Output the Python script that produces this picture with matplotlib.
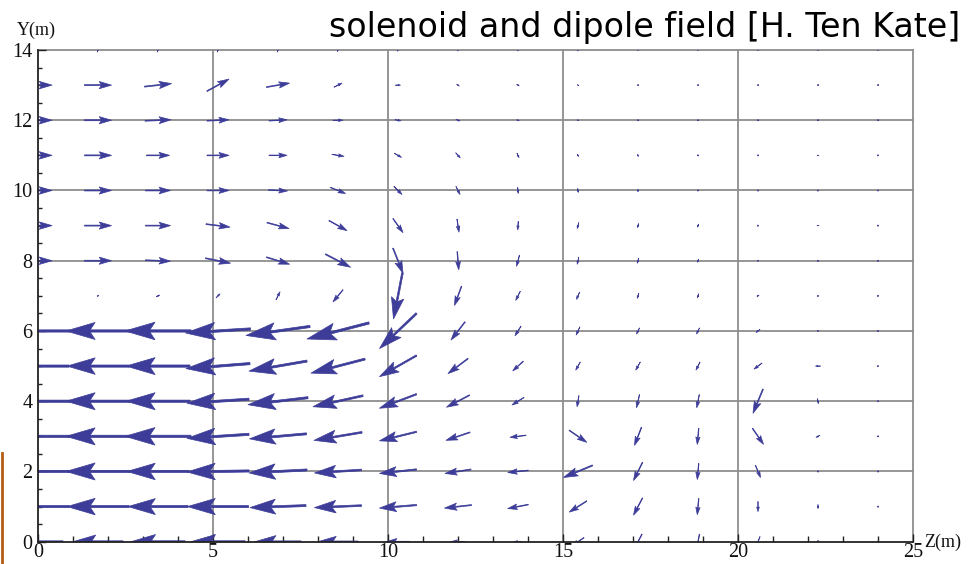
import numpy as np
import matplotlib
matplotlib.use("Agg")
import matplotlib.pyplot as plt
from matplotlib.lines import Line2D

# ---------------- data ----------------
title_text = "solenoid and dipole field [H. Ten Kate]"
x_label = "Z(m)"
y_label = "Y(m)"
x_ticks = [0, 5, 10, 15, 20, 25]
y_ticks = [0, 2, 4, 6, 8, 10, 12, 14]

# sampling grid of the vector plot
z_samples = np.linspace(0, 24, 15)
y_samples = np.arange(0, 15)

# field components (arbitrary units), rows Y = 0 .. 14, columns along Z
Bz = [
    [-50, -50, -54, -54, -46, -40, -24, -14, -8, -12, -8, -3, -4, 0, 0],
    [-62, -62, -60, -61, -56, -47, -37, -27, -20.5, -17.5, -9, -1.5, 0, 0, 0],
    [-64, -64, -62, -62, -58, -47, -37, -26, -20.5, -29, -9, -1.5, 5, 0, 0],
    [-64, -64, -66, -62, -57, -48, -37, -24, -16, 17.5, -7, -1.5, 11, -4, 0],
    [-64, -64, -64, -62, -60, -50, -37, -23, -12, -1.8, -3, -2.5, -10, 1, 0],
    [-62, -62, -64, -64, -58, -54, -37, -20, -10.5, -4.5, -4.5, -4, -8, -5, -1],
    [-64, -64, -66, -65, -64, -62, -37, -14, -6, -3.7, -3, -3, -4, -1.5, -0.5],
    [0.5, 1.5, 3.5, 4, 4, -10, -9, -7, -4.5, -3, -1.5, -1.5, -2, -1, -0.5],
    [28, 27, 25, 25, 23, 25, 10, 1.5, -3, -1.5, -1.5, -1, -1, -1, -0.8],
    [28, 27, 25, 24, 22, 18, 10, 2, -0.5, -1.5, -1, -1, -1, -2, -1],
    [28, 27, 25, 22, 19, 15, 8, 4, 0.5, 0.5, 0, -0.3, -0.5, -0.8, -0.8],
    [28, 27, 23, 22, 18, 12, 7, 4.5, 2, 1, 0.5, 0.3, 0, -1.5, -0.8],
    [28, 27, 26, 22, 18, 10, 6, 4, 2.5, 1.2, 1, 0.8, 0.6, 0.5, 0.5],
    [28, 27, 27, 22, 23, 8, 5, 2.5, 2.5, 1, 0.8, 0.7, 0.6, 0.5, 0.5],
    [2, 1, 1, 1, 1, 1, 0.5, 0.5, 0.5, 0.5, 0.3, 0.3, 0.2, 0.2, 0.2],
]
By = [
    [0, 0, 0, 0, 0, 0, 0, 0, 0, -8, -15, -15, -10, -3, 0],
    [0, 0, 0, 0, -2, -2, -3, -3, -4, -11, -17, -16, -10, -4, -0.5],
    [0, 0, 0, -1, -3, -3, -4, -4, -2, -12, -18, -16, -12, -1, -0.5],
    [0, 0, 0, -4, -5, -8, -9, -8, -2, -12, -18, -16, -16, -2, -0.5],
    [0, 0, 0, -4, -7, -11, -14, -12, -7.5, -11, -13, -13, -24, -5, -0.5],
    [0, 0, 0, -5, -10, -14, -21, -15, -9.5, -8, -8, -8, -6, 0, 0],
    [0, 0, 0, -4, -9, -16, -35, -18, -9.5, -8, -6, -6, -3, 0, 0],
    [0.3, 1, 1.5, 4, 8, -12, -46, -19, -9, -7, -5, -4, -1, -0.5, 0],
    [0, 0, -1, -5, -7, -13, -25, -18, -11, -7, -5, -3, -1, -0.5, 0],
    [0, 0, 0, -3, -6, -10, -14, -13, -8.5, -6, -4, -3, -0.5, 0, 0],
    [0, 0, 0, 0, -1, -6, -8, -8, -6, -4, -2.5, -1.5, -1, -0.5, 0],
    [0, 0, 0, 0, 0, -2, -4, -5, -4.5, -2.5, -2, -1.5, -1, 0, 0],
    [0, 0, 1, 1, 1, 0, -1, -1.5, -1, -1, -0.5, -0.5, -0.3, 0, 0],
    [0, 0, 3, 12, 4, 4, 0, -2, -1.5, -1, -0.5, -0.3, -0.2, 0, 0],
    [3, 4, 4, 4, 4, 3, 2.5, 2, 2, 2, 1.5, 1.5, 1, 1, 1],
]

# ---------------- figure ----------------
W, H = 975, 564
fig = plt.figure(figsize=(W / 100, H / 100), dpi=100)
fig.patch.set_facecolor("white")

ax_left, ax_right, ax_top, ax_bottom = 38, 913, 50, 541.7
ax = fig.add_axes([ax_left / W, 1 - ax_bottom / H,
                   (ax_right - ax_left) / W, (ax_bottom - ax_top) / H])
ax.set_xlim(0, 25)
ax.set_ylim(0, 14)

arrow_color = "#3d3d99"
grid_color = "#8e8e8e"

# grid lines (including top and right border lines)
for xv in x_ticks[1:]:
    ax.axvline(xv, color=grid_color, lw=1.3, zorder=1, clip_on=False)
for yv in y_ticks[1:]:
    ax.axhline(yv, color=grid_color, lw=1.3, zorder=1, clip_on=False)

ZZ, YY = np.meshgrid(z_samples, y_samples)
U = np.array(Bz, dtype=float)
V = np.array(By, dtype=float)

ax.quiver(ZZ, YY, U, V, angles="xy", scale_units="xy", scale=35,
          pivot="middle", units="dots", width=2.4,
          headlength=13, headwidth=7.6, headaxislength=10.8,
          minshaft=2.2, minlength=0.5,
          color=arrow_color, edgecolor=arrow_color, linewidth=0.5,
          zorder=3)

# spines
for s in ["top", "right"]:
    ax.spines[s].set_visible(False)
for s in ["left", "bottom"]:
    ax.spines[s].set_color("#222222")
    ax.spines[s].set_linewidth(1.3)
    ax.spines[s].set_zorder(4)

serif = ["Liberation Serif", "DejaVu Serif"]
ax.set_xticks(x_ticks)
ax.set_yticks(y_ticks)
ax.set_xticks(np.arange(0, 26, 1), minor=True)
ax.set_yticks(np.arange(0, 14.01, 0.5), minor=True)
ax.tick_params(axis="both", which="major", direction="in", length=6,
               width=1.0, color="#222222", labelsize=14.5)
ax.tick_params(axis="both", which="minor", direction="in", length=4,
               width=1.0, color="#222222")
ax.tick_params(axis="y", which="minor", length=3)
ax.tick_params(axis="x", pad=1)
ax.tick_params(axis="y", pad=4)
for lab in ax.get_xticklabels() + ax.get_yticklabels():
    lab.set_family(serif)
    lab.set_color("#111111")

# axis labels
fig.text(17 / W, 1 - 35 / H, y_label, family=serif, fontsize=13,
         ha="left", va="baseline", color="#111111")
fig.text(924 / W, 1 - 547 / H, x_label, family=serif, fontsize=13,
         ha="left", va="baseline", color="#111111")

# title, fitted to width
t = fig.text(960 / W, 1 - 37 / H, title_text, family=["DejaVu Sans"],
             fontsize=22, ha="right", va="baseline", color="black")
fig.canvas.draw()
bb = t.get_window_extent()
t.set_fontsize(22 * 630 / bb.width)

# slide artefact on the left edge
fig.add_artist(Line2D([1.5 / W, 1.5 / W], [0, 1 - 453 / H],
                      transform=fig.transFigure, color="#b35c12", lw=2))

fig.savefig("out.png", dpi=100, facecolor="white")
